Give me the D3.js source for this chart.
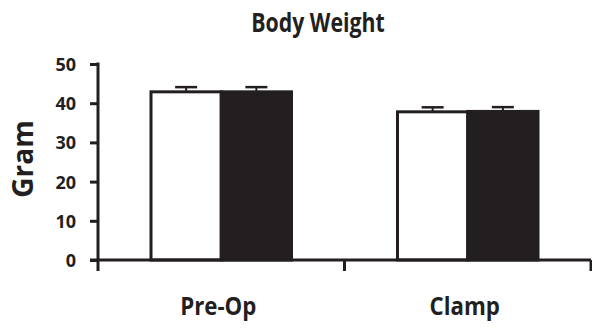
<!DOCTYPE html>
<html>
<head>
<meta charset="utf-8">
<script src="https://cdn.jsdelivr.net/npm/d3@7"></script>
<style>
  html, body { margin: 0; padding: 0; background: #fff; }
  text { font-family: "Open Sans", "Noto Sans", sans-serif; font-weight: bold; fill: #231f20; }
</style>
</head>
<body>
<svg id="chart" width="592" height="329"></svg>
<script>
const categories = ["Pre-Op", "Clamp"];
const groups = ["Control", "Treated"];
const controlValues = [42.9, 37.8];
const treatedValues = [42.9, 37.9];
const controlErrors = [1.2, 1.15];
const treatedErrors = [1.2, 1.1];
const yTicks = [0, 10, 20, 30, 40, 50];
const title = "Body Weight";
const yLabel = "Gram";

(function () {
const ink = "#231f20";
const svg = d3.select("#chart");
const mLeft = 98, mRight = 591, mTop = 64, mBottom = 260;

const x0 = d3.scaleBand().domain(categories).range([mLeft, mRight])
  .paddingInner(0.43).paddingOuter(0.215);
const x1 = d3.scaleBand().domain(groups).range([0, x0.bandwidth()]).padding(0);
const y = d3.scaleLinear().domain([0, 50]).range([mBottom, mTop]);

const data = categories.map((c, i) => ({
  cat: c,
  vals: [
    { g: "Control", v: controlValues[i], e: controlErrors[i] },
    { g: "Treated", v: treatedValues[i], e: treatedErrors[i] }
  ]
}));

const grp = svg.selectAll("g.cat").data(data).join("g")
  .attr("class", "cat")
  .attr("transform", d => `translate(${x0(d.cat)},0)`);

grp.selectAll("g.err").data(d => d.vals).join("g").attr("class", "err").each(function(d) {
  const g = d3.select(this);
  const cx = x1(d.g) + x1.bandwidth() / 2;
  g.append("line").attr("x1", cx).attr("x2", cx)
    .attr("y1", y(d.v)).attr("y2", y(d.v + d.e))
    .attr("stroke", ink).attr("stroke-width", 2);
  g.append("line").attr("x1", cx - 11).attr("x2", cx + 11)
    .attr("y1", y(d.v + d.e)).attr("y2", y(d.v + d.e))
    .attr("stroke", ink).attr("stroke-width", 2.5);
});

grp.selectAll("rect").data(d => d.vals).join("rect")
  .attr("x", d => x1(d.g))
  .attr("y", d => y(d.v))
  .attr("width", x1.bandwidth())
  .attr("height", d => y(0) - y(d.v))
  .attr("fill", d => d.g === "Control" ? "#fff" : ink)
  .attr("stroke", ink)
  .attr("stroke-width", 3);

const yAxis = d3.axisLeft(y).tickValues(yTicks).tickSize(8).tickPadding(14);
const ya = svg.append("g").attr("transform", `translate(${mLeft},0)`).call(yAxis);
ya.select(".domain").remove();
ya.selectAll(".tick line").attr("stroke", ink).attr("stroke-width", 3);
ya.selectAll(".tick text").style("font-size", "18px").attr("dy", "0.36em");
svg.append("line").attr("x1", mLeft).attr("x2", mLeft)
  .attr("y1", y(50) - 1.5).attr("y2", mBottom + 11)
  .attr("stroke", ink).attr("stroke-width", 3);

const bounds = [mLeft, mLeft + x0.step(), mRight];
svg.append("line").attr("x1", mLeft - 8).attr("x2", mRight)
  .attr("y1", mBottom).attr("y2", mBottom)
  .attr("stroke", ink).attr("stroke-width", 3);
svg.selectAll("line.xt").data(bounds.slice(1)).join("line").attr("class", "xt")
  .attr("x1", d => d).attr("x2", d => d)
  .attr("y1", mBottom).attr("y2", mBottom + 11)
  .attr("stroke", ink).attr("stroke-width", 3);

svg.selectAll("text.xl").data(categories).join("text").attr("class", "xl")
  .attr("transform", d => `translate(${x0(d) + x0.bandwidth() / 2 - 3},315) scale(0.89,1)`)
  .attr("text-anchor", "middle")
  .style("font-size", "25px")
  .text(d => d);

svg.append("text").attr("transform", "translate(318,32) scale(0.82,1)")
  .attr("text-anchor", "middle")
  .style("font-size", "26px").text(title);

svg.append("text").attr("transform", "translate(33,159) rotate(-90)")
  .attr("text-anchor", "middle").style("font-size", "28px").text(yLabel);
})();
</script>
</body>
</html>
